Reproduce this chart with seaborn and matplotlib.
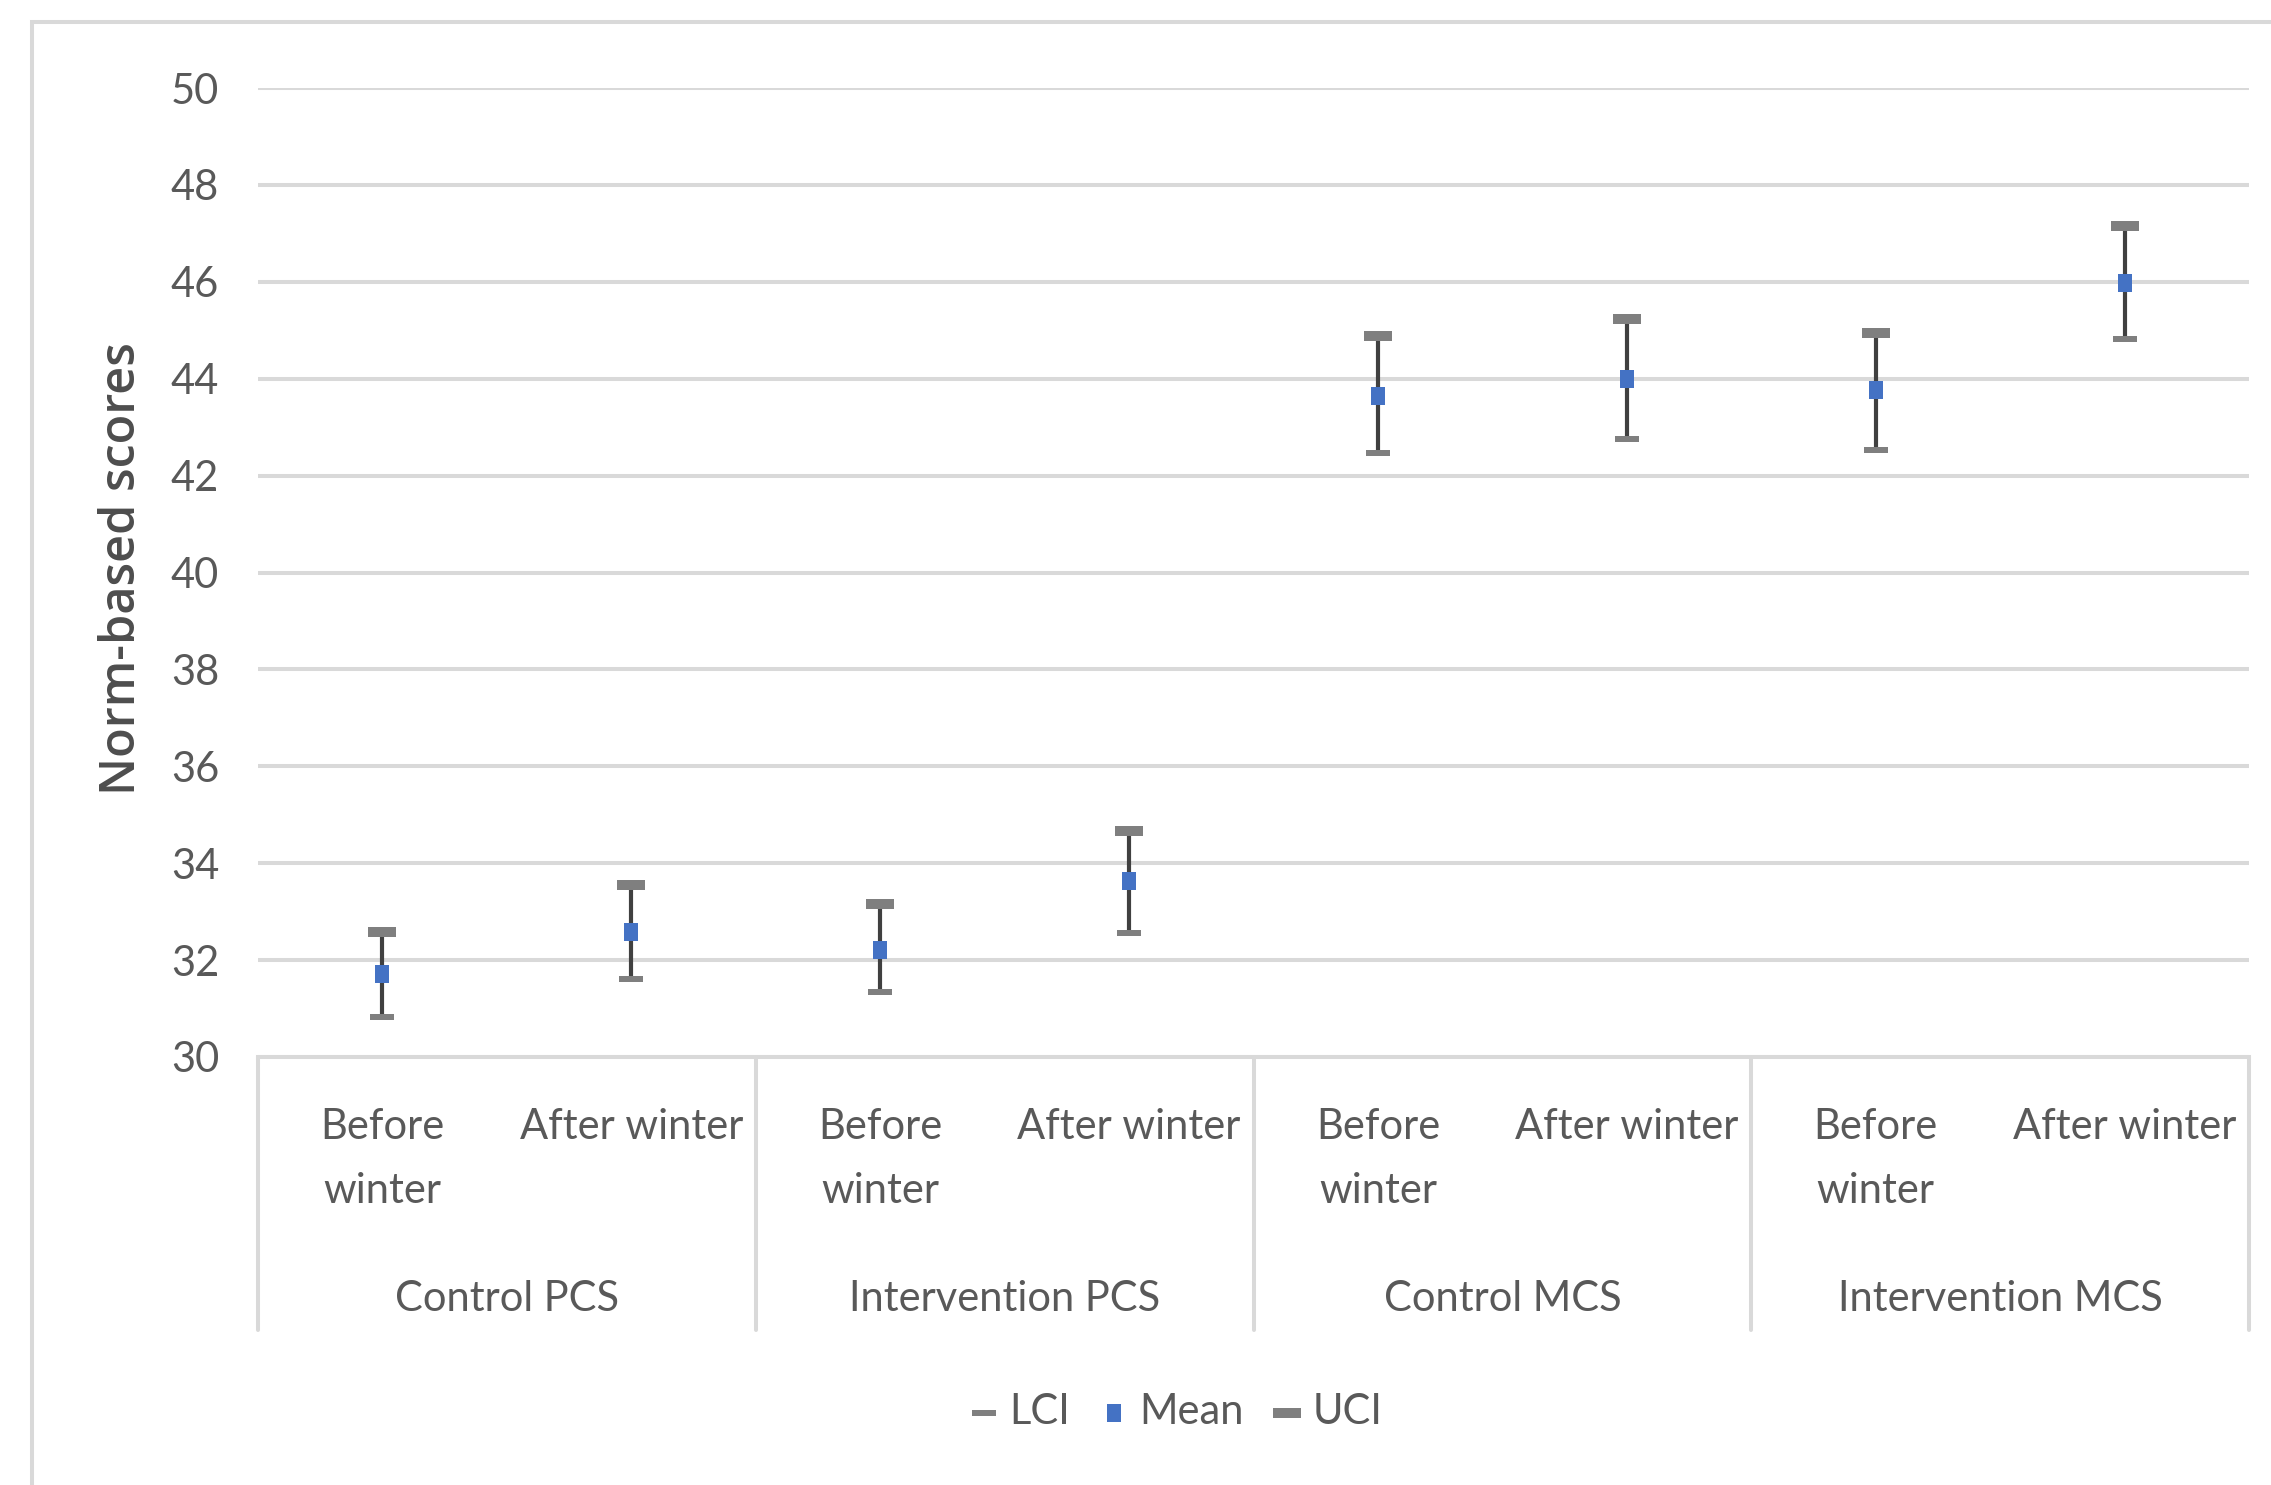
import numpy as np
import pandas as pd
import matplotlib
matplotlib.use("Agg")
import matplotlib.pyplot as plt
from matplotlib.patches import Rectangle
import seaborn as sns

# values
groups = ["Control PCS", "Intervention PCS", "Control MCS", "Intervention MCS"]
periods = ["Before\nwinter", "After winter"]
mean_vals = [31.71, 32.59, 32.21, 33.63, 43.64, 43.99, 43.76, 45.98]
lci_vals = [30.83, 31.60, 31.35, 32.56, 42.47, 42.76, 42.53, 44.81]
uci_vals = [32.59, 33.54, 33.16, 34.67, 44.89, 45.23, 44.94, 47.16]
y_ticks = list(range(30, 51, 2))

GRID = "#d9d9d9"
TEXT = "#595959"
BLUE = "#4472c4"
CAP = "#7f7f7f"
HILO = "#404040"
FS = 30

W, H = 2271, 1485

sns.set_theme(style="white")
plt.rcParams["font.family"] = ["Lato", "DejaVu Sans"]

df = pd.DataFrame({
    "pos": np.arange(len(mean_vals)),
    "LCI": lci_vals,
    "Mean": mean_vals,
    "UCI": uci_vals,
})

fig = plt.figure(figsize=(W / 100, H / 100), dpi=100)
ax = fig.add_axes([258 / W, 1 - 1057 / H, (2249 - 258) / W, (1057 - 88) / H])

# high-low lines between LCI and UCI
ax.vlines(df["pos"], df["LCI"], df["UCI"], color=HILO, lw=3, zorder=3)

lci_marker = [(-1, -0.29), (1, -0.29), (1, 0.29), (-1, 0.29), (-1, -0.29)]
uci_marker = [(-1, -0.39), (1, -0.39), (1, 0.39), (-1, 0.39), (-1, -0.39)]
mean_marker = [(-0.41, -0.5), (0.41, -0.5), (0.41, 0.5), (-0.41, 0.5), (-0.41, -0.5)]

sns.scatterplot(data=df, x="pos", y="LCI", marker=lci_marker, s=298, color=CAP,
                linewidth=0, zorder=4, label="LCI", ax=ax)
sns.scatterplot(data=df, x="pos", y="Mean", marker=mean_marker, s=165, color=BLUE,
                linewidth=0, zorder=5, label="Mean", ax=ax)
sns.scatterplot(data=df, x="pos", y="UCI", marker=uci_marker, s=406, color=CAP,
                linewidth=0, zorder=4, label="UCI", ax=ax)

ax.set_xlim(-0.5, len(mean_vals) - 0.5)
ax.set_ylim(y_ticks[0], y_ticks[-1])
ax.set_yticks(y_ticks)
ax.set_yticklabels([str(t) for t in y_ticks])
ax.grid(axis="y", color=GRID, lw=2.9)
ax.set_axisbelow(True)
for side in ["top", "right", "left"]:
    ax.spines[side].set_visible(False)
ax.spines["bottom"].set_color(GRID)
ax.spines["bottom"].set_linewidth(2.9)

ax.set_xticks(df["pos"])
ax.set_xticklabels(periods * len(groups))
ax.tick_params(axis="x", length=0, pad=37, labelsize=FS, labelcolor=TEXT)
ax.tick_params(axis="y", length=0, pad=28, labelsize=FS, labelcolor=TEXT)
for lab in ax.get_xticklabels():
    lab.set_linespacing(1.82)
ax.set_xlabel("")

ax.set_ylabel("Norm-based scores", fontsize=35, color="#4d4d4d", fontweight="semibold",
              family=["Open Sans", "DejaVu Sans"])
ax.yaxis.set_label_coords(-0.056, 0.504)

# group labels and separators under the axis
xt = ax.get_xaxis_transform()
n_per = len(periods)
for i, g in enumerate(groups):
    ax.text(i * n_per + (n_per - 1) / 2, -0.250, g, transform=xt, ha="center",
            va="center", fontsize=FS, color=TEXT)
sep_depth = -(1330 - 1057) / (1057 - 88)
for b in range(len(groups) + 1):
    xb = b * n_per - 0.5
    ax.plot([xb, xb], [0, sep_depth], transform=xt, clip_on=False, color=GRID, lw=2.9)

handles, labels = ax.get_legend_handles_labels()
if ax.legend_:
    ax.legend_.remove()
fig.legend(handles, labels, loc="center", bbox_to_anchor=(1176 / W, 1 - 1412 / H),
           ncol=3, frameon=False, fontsize=FS, labelcolor=TEXT,
           handlelength=0.7, handletextpad=0.25, columnspacing=0.7, borderaxespad=0)

# chart-area border
fig.patches.append(Rectangle((32 / W, -0.1), 1.5, 1.1 - 22 / H, transform=fig.transFigure,
                             fill=False, edgecolor=GRID, lw=2.9))

fig.savefig("out.png", dpi=100)
